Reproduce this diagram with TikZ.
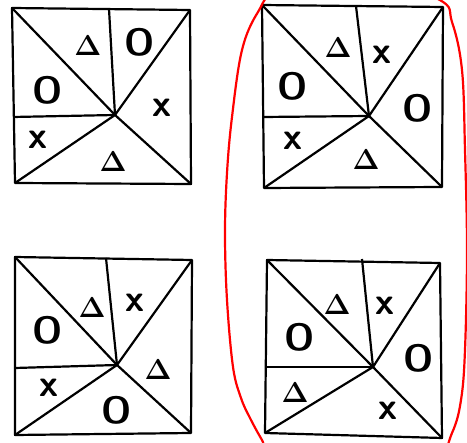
\documentclass[tikz,border=0pt]{standalone}
\begin{document}
\begin{tikzpicture}[x=0.5pt,y=-0.5pt,
  edge/.style={line width=1.1pt,line join=round},
  tri/.style={font=\fontsize{14}{14}\selectfont\boldmath},
  ring/.style={font=\fontsize{19}{19}\selectfont\sffamily\bfseries},
  cross/.style={font=\fontsize{19}{19}\selectfont\sffamily\bfseries},
  loop/.style={red,line width=1.1pt}]
\useasboundingbox (0,0) rectangle (467,443);
\fill[white] (0,0) rectangle (467,443);
% square definitions: prefix, TL, TR, BR, BL, C, T, L
\foreach \p/\tl/\tr/\br/\bl/\c/\t/\l in {
  a/{12,8}/{190,10}/{191,184}/{15,183}/{115,115}/{109,9}/{13,117},
  b/{262,5}/{443,7}/{442,187}/{264,188}/{369,116}/{356,6}/{263,117},
  c/{15,257}/{192,260}/{191,433}/{15,435}/{117,365}/{106,258}/{15,368},
  d/{267,260}/{440,263}/{442,438}/{265,433}/{373,367}/{362,259}/{266,367}}{
  \coordinate (\p tl) at (\tl);
  \coordinate (\p tr) at (\tr);
  \coordinate (\p br) at (\br);
  \coordinate (\p bl) at (\bl);
  \coordinate (\p c) at (\c);
  \coordinate (\p t) at (\t);
  \coordinate (\p l) at (\l);
  \draw[edge] (\p tl) -- (\p tr) -- (\p br) -- (\p bl) -- cycle;
  \draw[edge] (\p c) -- (\p tl);
  \draw[edge] (\p c) -- (\p tr);
  \draw[edge] (\p c) -- (\p br);
  \draw[edge] (\p c) -- (\p bl);
  \draw[edge] (\p c) -- (\p t);
  \draw[edge] (\p c) -- (\p l);
}
% square 1 labels
\node[tri]   (a1) at (88,46)   {$\Delta$};
\node[ring]  (a2) at (140,42)  {O};
\node[cross] (a3) at (162,108) {x};
\node[tri]   (a4) at (113,162) {$\Delta$};
\node[cross] (a5) at (38,140)  {x};
\node[ring]  (a6) at (48,90)   {O};
% square 2 labels
\node[tri]   (b1) at (338,48)  {$\Delta$};
\node[cross] (b2) at (382,55)  {x};
\node[ring]  (b3) at (418,108) {O};
\node[tri]   (b4) at (366,160) {$\Delta$};
\node[cross] (b5) at (293,141) {x};
\node[ring]  (b6) at (293,86)  {O};
% square 3 labels
\node[tri]   (c1) at (92,308)  {$\Delta$};
\node[cross] (c2) at (135,303) {x};
\node[ring]  (c3) at (48,330)  {O};
\node[tri]   (c4) at (158,370) {$\Delta$};
\node[cross] (c5) at (49,388)  {x};
\node[ring]  (c6) at (117,410) {O};
% square 4 labels
\node[tri]   (d1) at (337,305) {$\Delta$};
\node[cross] (d2) at (385,306) {x};
\node[ring]  (d3) at (300,337) {O};
\node[ring]  (d4) at (419,358) {O};
\node[tri]   (d5) at (295,393) {$\Delta$};
\node[cross] (d6) at (388,411) {x};
% red loop
\begin{scope}
\clip (0,0) rectangle (467,443);
\draw[loop] plot[smooth cycle,tension=0.6] coordinates {
  (354,-30) (438,-1) (452,22) (462,70) (465,150) (467,250) (465,350)
  (461,400) (452,433) (430,470) (354,485) (275,460) (262,440) (250,418)
  (241,398) (233,367) (227,300) (225,233) (227,173) (232,117) (242,50) (258,12) (280,-12)};
\end{scope}
\end{tikzpicture}
\end{document}
